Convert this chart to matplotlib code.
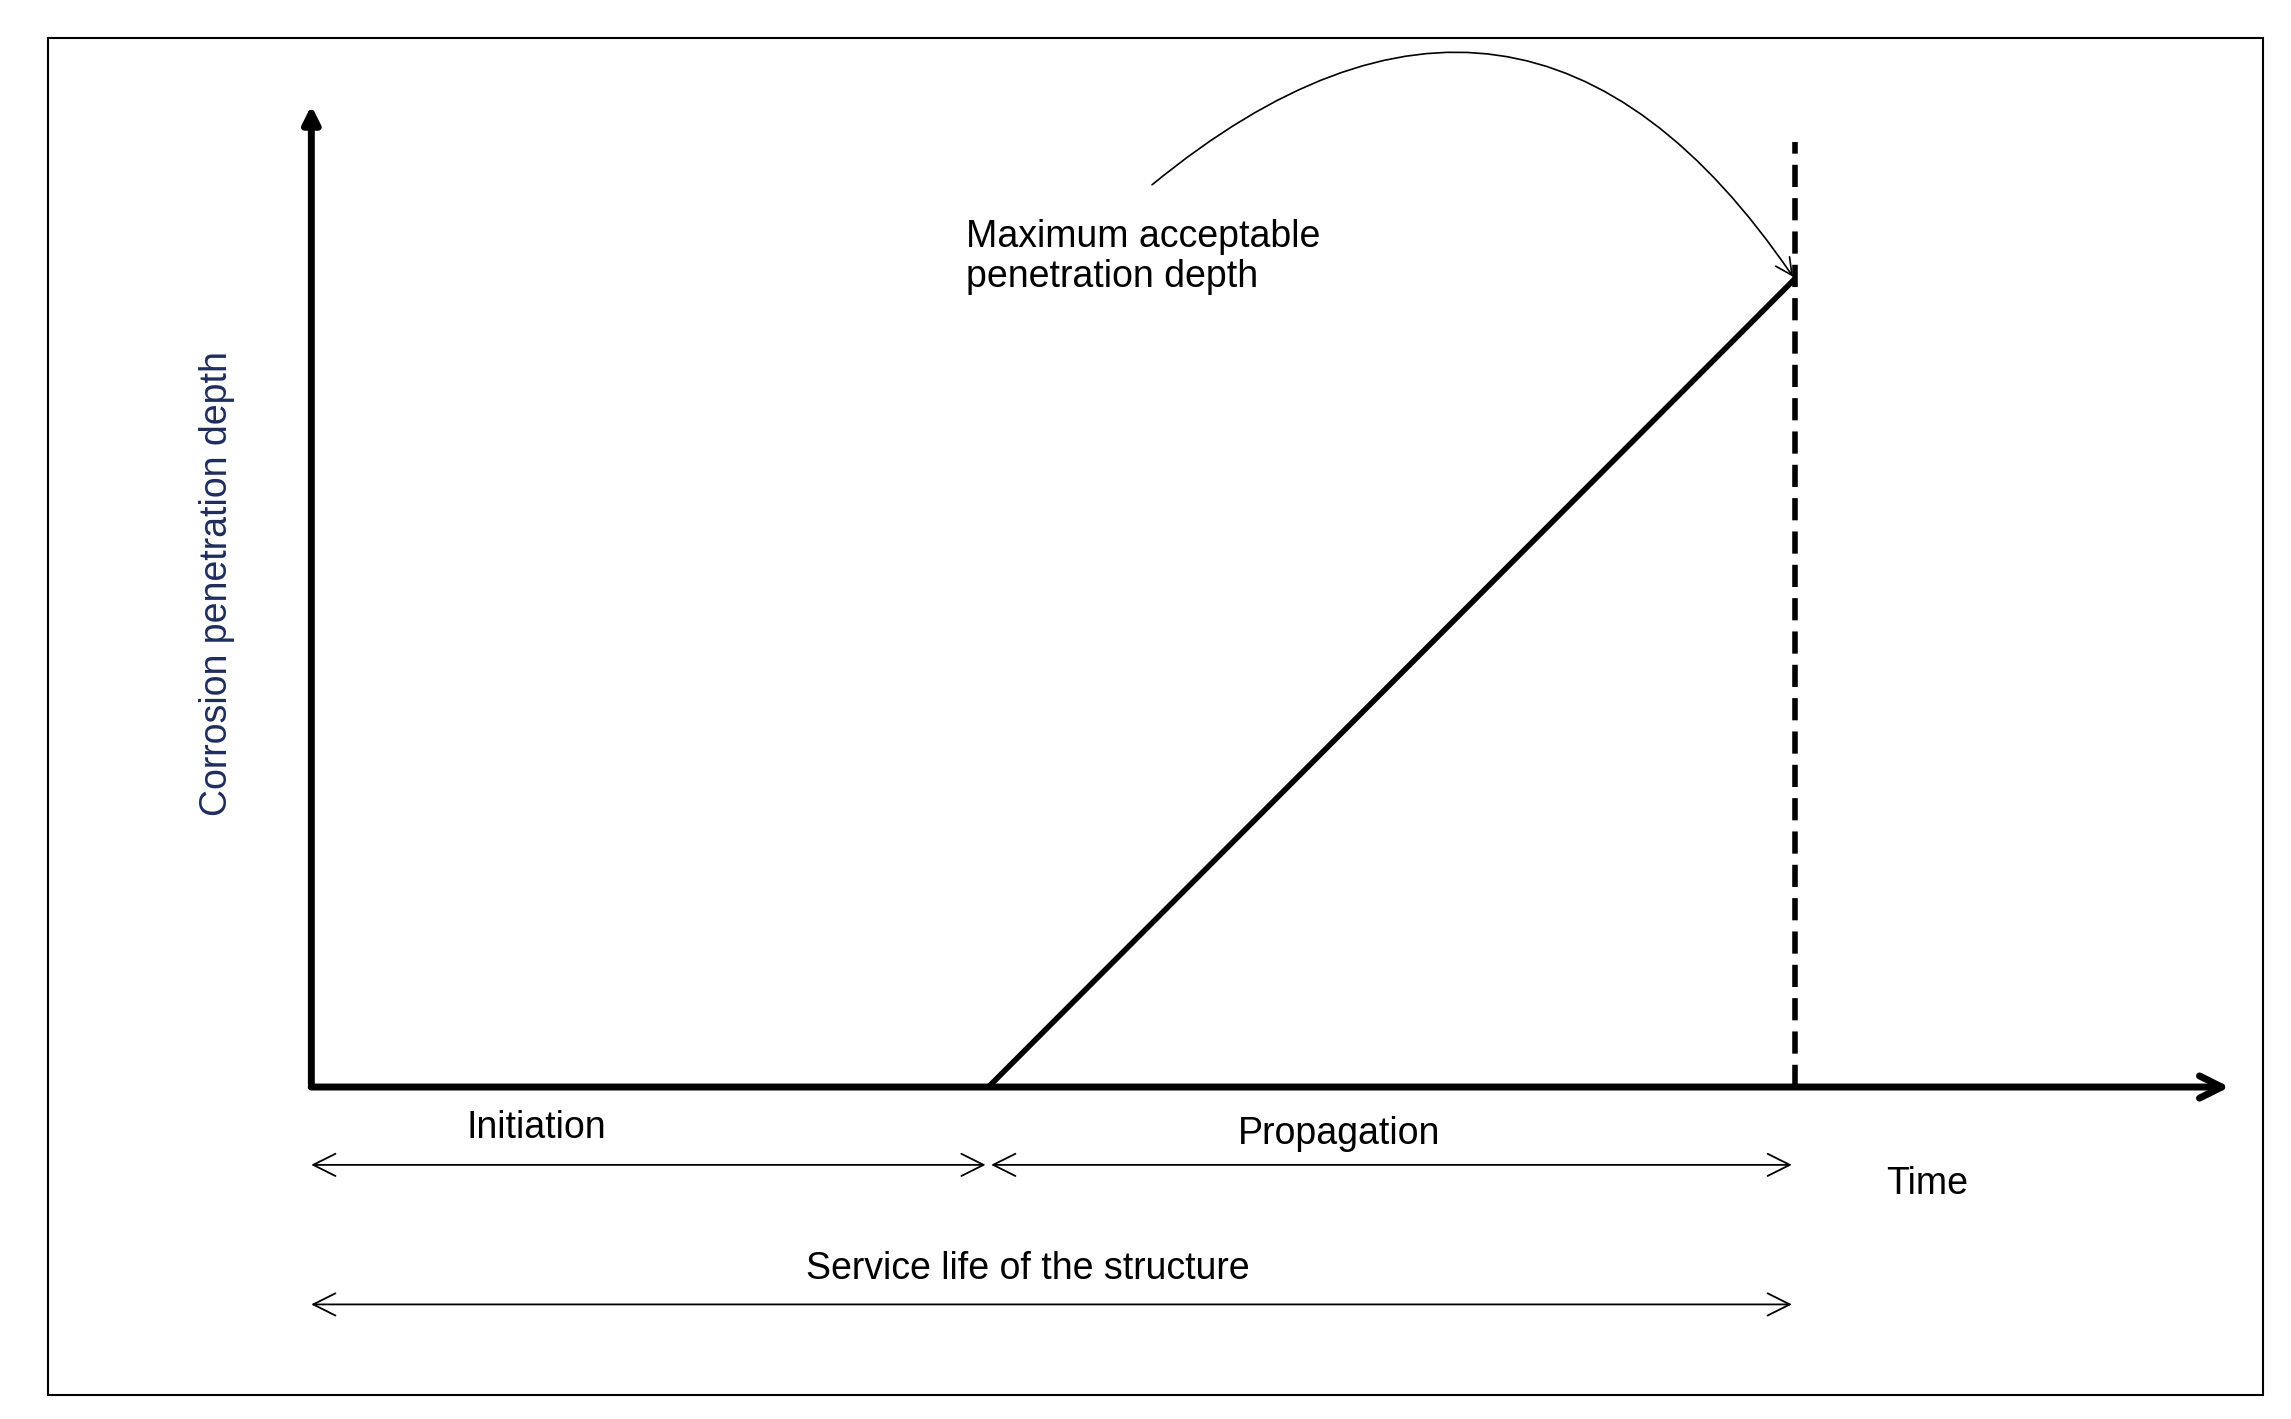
import matplotlib.pyplot as plt
from matplotlib.patches import Rectangle

plt.rcParams['font.family'] = ['Liberation Sans', 'DejaVu Sans']

# schematic values (arbitrary units)
t_start = 0
t_init = 463
t_end = 1012
t_max = 1310
depth_max = 550
limit_top = 643
y_top = 670

fig = plt.figure(figsize=(22.91, 14.19), dpi=100)
fig.patches.append(Rectangle((33 / 1560, 1 - 950 / 966), 1508 / 1560, 924 / 966,
                             transform=fig.transFigure, fill=False, lw=1.5, ec='black'))
ax = fig.add_axes([210 / 1560, 1 - 740 / 966, 1310 / 1560, 670 / 966])
ax.set_xlim(0, t_max)
ax.set_ylim(0, y_top)
ax.axis('off')

# axes
ax.annotate('', xy=(t_max, 0), xytext=(t_start, 0),
            arrowprops=dict(arrowstyle='->', lw=5, mutation_scale=40), annotation_clip=False)
ax.annotate('', xy=(2, y_top), xytext=(2, 0),
            arrowprops=dict(arrowstyle='-|>', lw=5, mutation_scale=25, fc='black'), annotation_clip=False)

# propagation line and limit
ax.plot([t_init, t_end], [0, depth_max], color='black', lw=4, solid_capstyle='butt', clip_on=False)
ax.plot([t_end, t_end], [0, limit_top], color='black', lw=4, ls=(0, (4, 2)), clip_on=False)

# dimension arrows
dim = dict(arrowstyle='<->', lw=1.3, mutation_scale=40)
ax.annotate('', xy=(t_start, -53), xytext=(t_init, -53), arrowprops=dim, annotation_clip=False)
ax.annotate('', xy=(t_init, -53), xytext=(t_end, -53), arrowprops=dim, annotation_clip=False)
ax.annotate('', xy=(t_start, -148), xytext=(t_end, -148), arrowprops=dim, annotation_clip=False)

fs = 27
ax.text(155, -28, 'Initiation', fontsize=fs, ha='center', va='center')
ax.text(702, -32, 'Propagation', fontsize=fs, ha='center', va='center')
ax.text(1102, -66, 'Time', fontsize=fs, ha='center', va='center')
ax.text(490, -124, 'Service life of the structure', fontsize=fs, ha='center', va='center')
ax.text(-62, 343, 'Corrosion penetration depth', fontsize=fs, rotation=90,
        ha='center', va='center', color='#1f2d5c')
ax.text(448, 565, 'Maximum acceptable\npenetration depth', fontsize=fs, ha='left',
        va='center', linespacing=1.15)

# curved pointer
ax.annotate('', xy=(t_end, depth_max), xytext=(573, 613),
            arrowprops=dict(arrowstyle='->', lw=1.2, mutation_scale=30,
                            connectionstyle='arc3,rad=-0.55'), annotation_clip=False)

fig.savefig('out.png', dpi=100, facecolor='white')
